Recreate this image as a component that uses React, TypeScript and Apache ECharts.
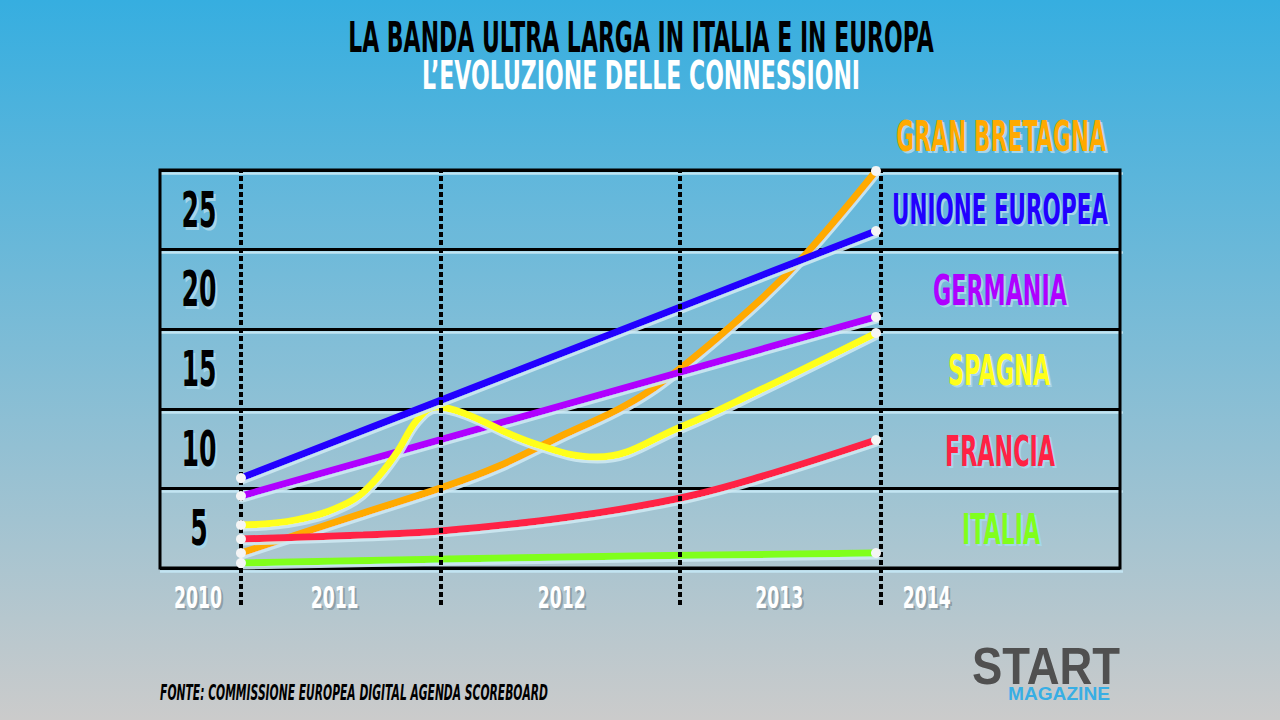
import React, { useEffect, useRef } from "react";
import * as echarts from "echarts";

// ---------- DATA ----------
const seriesNames = ["GRAN BRETAGNA", "ITALIA", "FRANCIA", "GERMANIA", "SPAGNA", "UNIONE EUROPEA"];
const seriesColors = ["#FFAA00", "#80FF1C", "#FF2244", "#B000FF", "#FFFF1A", "#2200FF"];

const gbYears = [2010, 2010.77, 2011.26, 2011.61, 2012.04, 2012.43, 2012.77, 2013.27, 2013.57, 2014];
const gbValues = [0.94, 3.45, 5.03, 6.34, 8.4, 10.25, 12.56, 16.83, 19.85, 24.94];

const italiaYears = [2010, 2012.07, 2014];
const italiaValues = [0.31, 0.69, 0.94];

const franciaYears = [2010, 2010.77, 2011.26, 2012.07, 2012.77, 2013.27, 2014];
const franciaValues = [1.82, 2.07, 2.32, 3.2, 4.4, 5.72, 8.04];

const germaniaYears = [2010, 2014];
const germaniaValues = [4.52, 15.77];

const spagnaYears = [2010, 2010.35, 2010.67, 2010.83, 2010.98, 2011.11, 2011.23, 2011.4, 2011.82, 2012.24, 2012.77, 2013.27, 2014];
const spagnaValues = [2.7, 3.02, 4.08, 5.34, 7.22, 9.3, 10.11, 9.74, 7.91, 6.97, 8.86, 11.18, 14.76];

const ueYears = [2010, 2014];
const ueValues = [5.65, 21.17];

const yTicks = [5, 10, 15, 20, 25];
const yearLabels = ["2010", "2011", "2012", "2013", "2014"];
const yearLabelAt = [2009.73, 2010.59, 2012.02, 2013.39, 2014.32];
const dividerAt = [2010, 2011.257, 2012.765, 2014.028];

const titleLines = ["LA BANDA ULTRA LARGA IN ITALIA E IN EUROPA", "L\u2019EVOLUZIONE DELLE CONNESSIONI"];
const sourceText = "FONTE: COMMISSIONE EUROPEA DIGITAL AGENDA SCOREBOARD";

const allYears = [gbYears, italiaYears, franciaYears, germaniaYears, spagnaYears, ueYears];
const allValues = [gbValues, italiaValues, franciaValues, germaniaValues, spagnaValues, ueValues];

// ---------- STYLE ----------
const NARROW = "'DejaVu Sans', 'Roboto', sans-serif";
const WIDE = "'Liberation Sans', 'Roboto', sans-serif";

let measureCtx: CanvasRenderingContext2D | null = null;
function measure(text: string, font: string): number {
  if (!measureCtx) measureCtx = document.createElement("canvas").getContext("2d");
  if (!measureCtx) return text.length * 10;
  measureCtx.font = font;
  return measureCtx.measureText(text).width || 1;
}

function fontOf(cap: number, opts: any = {}) {
  const fontSize = Math.round(cap / 0.72);
  const family = opts.family || NARROW;
  const weight = opts.weight || "bold";
  return `${opts.italic ? "italic " : ""}${weight} ${fontSize}px ${family}`;
}

function textEl(text: string, cx: number, cy: number, scaleX: number, font: string, fill: string, opts: any = {}) {
  return {
    type: "text",
    x: cx,
    y: cy,
    scaleX,
    silent: true,
    z: opts.z ?? 10,
    style: {
      text,
      font,
      fill,
      align: "center",
      verticalAlign: "middle",
      textAlign: "center",
      textVerticalAlign: "middle",
      ...(opts.style || {}),
    },
  };
}

function fitted(text: string, cx: number, cy: number, width: number, cap: number, fill: string, opts: any = {}) {
  const font = fontOf(cap, opts);
  return textEl(text, cx, cy, width / measure(text, font), font, fill, opts);
}

function withShadow(text: string, cx: number, cy: number, width: number, cap: number, fill: string, shadow: string, opts: any = {}) {
  return [
    fitted(text, cx + 2, cy + 2, width, cap, shadow, { ...opts, z: 9 }),
    fitted(text, cx, cy, width, cap, fill, opts),
  ];
}

// legend label layout (pixel boxes: centre x, centre y, width)
const labelLayout: Record<string, [number, number, number]> = {
  "GRAN BRETAGNA": [1001, 137, 210],
  "UNIONE EUROPEA": [1000, 210, 216],
  GERMANIA: [1000, 291, 134],
  SPAGNA: [999, 371, 102],
  FRANCIA: [1000, 452, 110],
  ITALIA: [1001, 530, 78],
};

export default function App() {
  const ref = useRef<HTMLDivElement>(null);

  useEffect(() => {
    if (!ref.current) return;
    const chart = echarts.init(ref.current, undefined, { renderer: "svg" });

    const xMin = 2009.49;
    const xMax = 2015.537;

    const series: any[] = seriesNames.map((name, i) => {
      const xs = allYears[i];
      const vs = allValues[i];
      return {
        name,
        type: "line",
        smooth: 0.4,
        data: xs.map((x, j) => [x, vs[j]]),
        symbol: "none",
        lineStyle: {
          color: seriesColors[i],
          width: 7,
          cap: "round",
          shadowColor: "rgba(205,232,242,0.9)",
          shadowOffsetX: 1,
          shadowOffsetY: 3,
          shadowBlur: 0,
        },
        emphasis: { disabled: true },
        silent: true,
        z: 2,
      };
    });

    // end-point dots
    const endPoints: number[][] = [];
    allYears.forEach((xs, i) => {
      const vs = allValues[i];
      endPoints.push([xs[0], vs[0]]);
      endPoints.push([xs[xs.length - 1], vs[vs.length - 1]]);
    });
    series.push({
      type: "scatter",
      data: endPoints,
      symbol: "circle",
      symbolSize: 10,
      itemStyle: { color: "#f5f5f5", opacity: 1 },
      emphasis: { disabled: true },
      silent: true,
      z: 5,
    });

    const baseOption: any = {
      animation: false,
      backgroundColor: new echarts.graphic.LinearGradient(0, 0, 0, 1, [
        { offset: 0, color: "#36AEE0" },
        { offset: 1, color: "#CBCBCB" },
      ]),
      grid: [
        {
          left: 160,
          right: 160,
          top: 170,
          bottom: 152,
          show: true,
          borderColor: "#000",
          borderWidth: 3,
          backgroundColor: "rgba(255,255,255,0.04)",
          outerBoundsMode: "none",
          containLabel: false,
          z: 1,
        },
        {
          left: 160,
          right: 157,
          top: 173,
          bottom: 149,
          show: false,
          outerBoundsMode: "none",
          containLabel: false,
          z: 0,
        },
      ],
      xAxis: [
        {
          type: "value",
          gridIndex: 0,
          min: xMin,
          max: xMax,
          axisLine: { show: false },
          axisTick: { show: false },
          splitLine: { show: false },
          axisLabel: { show: false },
        },
        {
          type: "value",
          gridIndex: 0,
          min: xMin,
          max: xMax,
          position: "bottom",
          offset: 37,
          z: 3,
          axisLine: { show: false },
          axisLabel: { show: false },
          splitLine: { show: false },
          axisTick: {
            show: true,
            inside: true,
            length: 433,
            customValues: dividerAt,
            lineStyle: { color: "#000", width: 4, type: [5, 3] },
          },
        },
        {
          type: "value",
          gridIndex: 1,
          min: xMin,
          max: xMax,
          show: false,
        },
      ],
      yAxis: [
        {
          type: "value",
          gridIndex: 0,
          min: 0,
          max: 25,
          interval: 5,
          z: 1,
          axisLine: { show: false },
          axisTick: { show: false },
          axisLabel: { show: false },
          splitLine: { show: true, lineStyle: { color: "#000", width: 3 } },
        },
        {
          type: "value",
          gridIndex: 1,
          min: 0,
          max: 25,
          interval: 5,
          z: 0,
          axisLine: { show: false },
          axisTick: { show: false },
          axisLabel: { show: false },
          splitLine: { show: true, lineStyle: { color: "rgba(195,230,243,0.95)", width: 2.5 } },
        },
      ],
      series,
    };

    chart.setOption(baseOption);

    // ----- texts -----
    const graphics: any[] = [];
    graphics.push(
      fitted(titleLines[0], 641, 38, 586, 30, "#000", {
        style: { shadowColor: "rgba(255,255,255,0.95)", shadowBlur: 12 },
      })
    );
    graphics.push(
      fitted(titleLines[1], 641, 75, 438, 28, "#fff", {
        style: { shadowColor: "rgba(255,255,255,0.8)", shadowBlur: 8 },
      })
    );
    seriesNames.forEach((name, i) => {
      const [cx, cy, w] = labelLayout[name];
      graphics.push(...withShadow(name, cx, cy, w, 30, seriesColors[i], "#a6d6ea"));
    });

    // y tick labels, centred in the band below each tick
    const yFont = fontOf(35);
    const yScale = 35 / measure("25", yFont);
    const yLabelX = 199;
    yTicks.forEach((v) => {
      const mid = v - 2.5;
      const py = chart.convertToPixel({ yAxisIndex: 0 }, mid) as number;
      graphics.push(textEl(String(v), yLabelX + 2, py + 3, yScale, yFont, "#a6d6ea", { z: 9 }));
      graphics.push(textEl(String(v), yLabelX, py, yScale, yFont, "#000"));
    });

    // year labels
    const xFont = fontOf(22);
    const xScale = 48 / measure("2010", xFont);
    const xLabelY = 597;
    yearLabels.forEach((lab, k) => {
      const px = chart.convertToPixel({ xAxisIndex: 0 }, yearLabelAt[k]) as number;
      graphics.push(textEl(lab, px + 2, xLabelY + 2, xScale, xFont, "rgba(110,125,135,0.55)", { z: 9 }));
      graphics.push(textEl(lab, px, xLabelY, xScale, xFont, "#fff"));
    });

    graphics.push(fitted(sourceText, 354, 692, 388, 16, "#000", { italic: true }));
    graphics.push(fitted("START", 1046, 666, 148, 37, "#505050", { family: WIDE, weight: 900 }));
    graphics.push(fitted("MAGAZINE", 1059, 694, 102, 13, "#38AEE4", { family: WIDE, weight: 900 }));

    chart.setOption({ graphic: { elements: graphics } });

    return () => chart.dispose();
  }, []);

  return (
    <div
      ref={ref}
      style={{ position: "absolute", left: 0, top: 0, width: 1280, height: 720 }}
    />
  );
}
